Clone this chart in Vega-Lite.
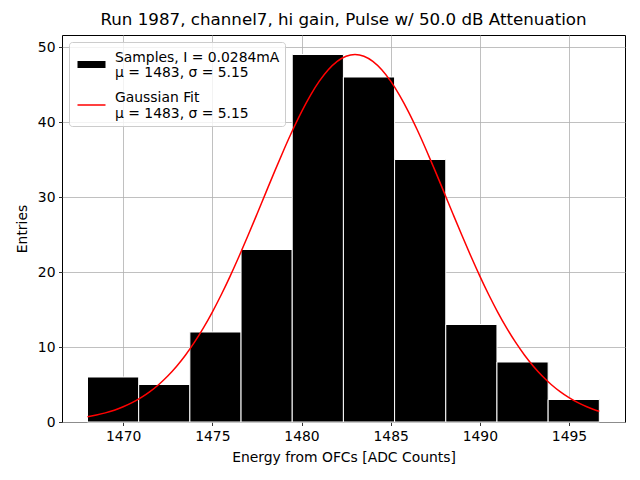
{
  "$schema": "https://vega.github.io/schema/vega-lite/v6.json",
  "title": {
    "text": "Run 1987, channel7, hi gain, Pulse w/ 50.0 dB Attenuation",
    "fontSize": 16.7, "fontWeight": "normal", "color": "black", "offset": 6
  },
  "width": 563,
  "height": 387,
  "autosize": "none",
  "padding": {"left": 62, "top": 35, "right": 15, "bottom": 58},
  "background": "white",
  "config": {
    "font": "DejaVu Sans",
    "view": {"stroke": "black", "strokeWidth": 1},
    "axis": {
      "domain": false, "grid": true, "gridColor": "#b0b0b0", "gridWidth": 0.8,
      "tickColor": "black", "tickSize": 3.5, "tickWidth": 0.8, "labelPadding": 3.5,
      "labelColor": "black", "labelFontSize": 13.9, "titleFontSize": 13.9,
      "titleFontWeight": "normal", "titleColor": "black", "zindex": 1, "format": "d"
    }
  },
  "layer": [
    {
      "data": {
        "values": [
          {"bin_start": 1468.00, "bin_end": 1470.87, "count": 6, "series": "Samples, I = 0.0284mA|μ = 1483, σ = 5.15"},
          {"bin_start": 1470.87, "bin_end": 1473.74, "count": 5, "series": "Samples, I = 0.0284mA|μ = 1483, σ = 5.15"},
          {"bin_start": 1473.74, "bin_end": 1476.61, "count": 12, "series": "Samples, I = 0.0284mA|μ = 1483, σ = 5.15"},
          {"bin_start": 1476.61, "bin_end": 1479.48, "count": 23, "series": "Samples, I = 0.0284mA|μ = 1483, σ = 5.15"},
          {"bin_start": 1479.48, "bin_end": 1482.35, "count": 49, "series": "Samples, I = 0.0284mA|μ = 1483, σ = 5.15"},
          {"bin_start": 1482.35, "bin_end": 1485.22, "count": 46, "series": "Samples, I = 0.0284mA|μ = 1483, σ = 5.15"},
          {"bin_start": 1485.22, "bin_end": 1488.09, "count": 35, "series": "Samples, I = 0.0284mA|μ = 1483, σ = 5.15"},
          {"bin_start": 1488.09, "bin_end": 1490.96, "count": 13, "series": "Samples, I = 0.0284mA|μ = 1483, σ = 5.15"},
          {"bin_start": 1490.96, "bin_end": 1493.83, "count": 8, "series": "Samples, I = 0.0284mA|μ = 1483, σ = 5.15"},
          {"bin_start": 1493.83, "bin_end": 1496.70, "count": 3, "series": "Samples, I = 0.0284mA|μ = 1483, σ = 5.15"}
        ]
      },
      "mark": {"type": "bar", "stroke": "white", "strokeWidth": 1},
      "encoding": {
        "x": {
          "field": "bin_start", "type": "quantitative",
          "scale": {"domain": [1466.57, 1498.14], "nice": false, "zero": false},
          "axis": {"values": [1470, 1475, 1480, 1485, 1490, 1495], "title": "Energy from OFCs [ADC Counts]", "titlePadding": 8}
        },
        "x2": {"field": "bin_end"},
        "y": {
          "field": "count", "type": "quantitative",
          "scale": {"domain": [0, 51.6], "nice": false},
          "axis": {"values": [0, 10, 20, 30, 40, 50], "title": "Entries", "titlePadding": 8}
        },
        "y2": {"datum": 0},
        "color": {
          "field": "series", "type": "nominal",
          "scale": {
            "domain": ["Samples, I = 0.0284mA|μ = 1483, σ = 5.15", "Gaussian Fit|μ = 1483, σ = 5.15"],
            "range": ["black", "red"]
          },
          "legend": {
            "title": null, "orient": "top-left", "offset": 7, "padding": 5,
            "strokeColor": "#cccccc", "fillColor": "rgba(255,255,255,0.8)", "cornerRadius": 3,
            "labelFontSize": 13.9, "labelColor": "black", "labelOffset": 6, "labelLimit": 400,
            "labelBaseline": "bottom",
            "symbolType": "stroke", "symbolSize": 784, "rowPadding": 9, "zindex": 2,
            "labelExpr": "split(datum.label, '|')"
          }
        }
      }
    },
    {
      "data": {
        "values": [
          {"energy": 1468.0, "fit": 0.705, "series": "Gaussian Fit|μ = 1483, σ = 5.15"},
          {"energy": 1468.5, "fit": 0.931, "series": "Gaussian Fit|μ = 1483, σ = 5.15"},
          {"energy": 1469.0, "fit": 1.218, "series": "Gaussian Fit|μ = 1483, σ = 5.15"},
          {"energy": 1469.5, "fit": 1.578, "series": "Gaussian Fit|μ = 1483, σ = 5.15"},
          {"energy": 1470.0, "fit": 2.025, "series": "Gaussian Fit|μ = 1483, σ = 5.15"},
          {"energy": 1470.5, "fit": 2.576, "series": "Gaussian Fit|μ = 1483, σ = 5.15"},
          {"energy": 1471.0, "fit": 3.245, "series": "Gaussian Fit|μ = 1483, σ = 5.15"},
          {"energy": 1471.5, "fit": 4.050, "series": "Gaussian Fit|μ = 1483, σ = 5.15"},
          {"energy": 1472.0, "fit": 5.007, "series": "Gaussian Fit|μ = 1483, σ = 5.15"},
          {"energy": 1472.5, "fit": 6.131, "series": "Gaussian Fit|μ = 1483, σ = 5.15"},
          {"energy": 1473.0, "fit": 7.438, "series": "Gaussian Fit|μ = 1483, σ = 5.15"},
          {"energy": 1473.5, "fit": 8.939, "series": "Gaussian Fit|μ = 1483, σ = 5.15"},
          {"energy": 1474.0, "fit": 10.642, "series": "Gaussian Fit|μ = 1483, σ = 5.15"},
          {"energy": 1474.5, "fit": 12.552, "series": "Gaussian Fit|μ = 1483, σ = 5.15"},
          {"energy": 1475.0, "fit": 14.663, "series": "Gaussian Fit|μ = 1483, σ = 5.15"},
          {"energy": 1475.5, "fit": 16.970, "series": "Gaussian Fit|μ = 1483, σ = 5.15"},
          {"energy": 1476.0, "fit": 19.455, "series": "Gaussian Fit|μ = 1483, σ = 5.15"},
          {"energy": 1476.5, "fit": 22.095, "series": "Gaussian Fit|μ = 1483, σ = 5.15"},
          {"energy": 1477.0, "fit": 24.857, "series": "Gaussian Fit|μ = 1483, σ = 5.15"},
          {"energy": 1477.5, "fit": 27.703, "series": "Gaussian Fit|μ = 1483, σ = 5.15"},
          {"energy": 1478.0, "fit": 30.586, "series": "Gaussian Fit|μ = 1483, σ = 5.15"},
          {"energy": 1478.5, "fit": 33.451, "series": "Gaussian Fit|μ = 1483, σ = 5.15"},
          {"energy": 1479.0, "fit": 36.240, "series": "Gaussian Fit|μ = 1483, σ = 5.15"},
          {"energy": 1479.5, "fit": 38.896, "series": "Gaussian Fit|μ = 1483, σ = 5.15"},
          {"energy": 1480.0, "fit": 41.354, "series": "Gaussian Fit|μ = 1483, σ = 5.15"},
          {"energy": 1480.5, "fit": 43.554, "series": "Gaussian Fit|μ = 1483, σ = 5.15"},
          {"energy": 1481.0, "fit": 45.441, "series": "Gaussian Fit|μ = 1483, σ = 5.15"},
          {"energy": 1481.5, "fit": 46.965, "series": "Gaussian Fit|μ = 1483, σ = 5.15"},
          {"energy": 1482.0, "fit": 48.085, "series": "Gaussian Fit|μ = 1483, σ = 5.15"},
          {"energy": 1482.5, "fit": 48.770, "series": "Gaussian Fit|μ = 1483, σ = 5.15"},
          {"energy": 1483.0, "fit": 49.000, "series": "Gaussian Fit|μ = 1483, σ = 5.15"},
          {"energy": 1483.5, "fit": 48.770, "series": "Gaussian Fit|μ = 1483, σ = 5.15"},
          {"energy": 1484.0, "fit": 48.085, "series": "Gaussian Fit|μ = 1483, σ = 5.15"},
          {"energy": 1484.5, "fit": 46.965, "series": "Gaussian Fit|μ = 1483, σ = 5.15"},
          {"energy": 1485.0, "fit": 45.441, "series": "Gaussian Fit|μ = 1483, σ = 5.15"},
          {"energy": 1485.5, "fit": 43.554, "series": "Gaussian Fit|μ = 1483, σ = 5.15"},
          {"energy": 1486.0, "fit": 41.354, "series": "Gaussian Fit|μ = 1483, σ = 5.15"},
          {"energy": 1486.5, "fit": 38.896, "series": "Gaussian Fit|μ = 1483, σ = 5.15"},
          {"energy": 1487.0, "fit": 36.240, "series": "Gaussian Fit|μ = 1483, σ = 5.15"},
          {"energy": 1487.5, "fit": 33.451, "series": "Gaussian Fit|μ = 1483, σ = 5.15"},
          {"energy": 1488.0, "fit": 30.586, "series": "Gaussian Fit|μ = 1483, σ = 5.15"},
          {"energy": 1488.5, "fit": 27.703, "series": "Gaussian Fit|μ = 1483, σ = 5.15"},
          {"energy": 1489.0, "fit": 24.857, "series": "Gaussian Fit|μ = 1483, σ = 5.15"},
          {"energy": 1489.5, "fit": 22.095, "series": "Gaussian Fit|μ = 1483, σ = 5.15"},
          {"energy": 1490.0, "fit": 19.455, "series": "Gaussian Fit|μ = 1483, σ = 5.15"},
          {"energy": 1490.5, "fit": 16.970, "series": "Gaussian Fit|μ = 1483, σ = 5.15"},
          {"energy": 1491.0, "fit": 14.663, "series": "Gaussian Fit|μ = 1483, σ = 5.15"},
          {"energy": 1491.5, "fit": 12.552, "series": "Gaussian Fit|μ = 1483, σ = 5.15"},
          {"energy": 1492.0, "fit": 10.642, "series": "Gaussian Fit|μ = 1483, σ = 5.15"},
          {"energy": 1492.5, "fit": 8.939, "series": "Gaussian Fit|μ = 1483, σ = 5.15"},
          {"energy": 1493.0, "fit": 7.438, "series": "Gaussian Fit|μ = 1483, σ = 5.15"},
          {"energy": 1493.5, "fit": 6.131, "series": "Gaussian Fit|μ = 1483, σ = 5.15"},
          {"energy": 1494.0, "fit": 5.007, "series": "Gaussian Fit|μ = 1483, σ = 5.15"},
          {"energy": 1494.5, "fit": 4.050, "series": "Gaussian Fit|μ = 1483, σ = 5.15"},
          {"energy": 1495.0, "fit": 3.245, "series": "Gaussian Fit|μ = 1483, σ = 5.15"},
          {"energy": 1495.5, "fit": 2.576, "series": "Gaussian Fit|μ = 1483, σ = 5.15"},
          {"energy": 1496.0, "fit": 2.025, "series": "Gaussian Fit|μ = 1483, σ = 5.15"},
          {"energy": 1496.5, "fit": 1.578, "series": "Gaussian Fit|μ = 1483, σ = 5.15"},
          {"energy": 1496.7, "fit": 1.424, "series": "Gaussian Fit|μ = 1483, σ = 5.15"}
        ]
      },
      "mark": {"type": "line", "interpolate": "monotone"},
      "encoding": {
        "x": {"field": "energy", "type": "quantitative"},
        "y": {"field": "fit", "type": "quantitative"},
        "color": {"field": "series", "type": "nominal"},
        "strokeWidth": {
          "field": "series", "type": "nominal",
          "scale": {
            "domain": ["Samples, I = 0.0284mA|μ = 1483, σ = 5.15", "Gaussian Fit|μ = 1483, σ = 5.15"],
            "range": [7, 1.5]
          },
          "legend": {
            "title": null, "orient": "top-left", "offset": 7, "padding": 5,
            "strokeColor": "#cccccc", "fillColor": "rgba(255,255,255,0.8)", "cornerRadius": 3,
            "labelFontSize": 13.9, "labelColor": "black", "labelOffset": 6, "labelLimit": 400,
            "labelBaseline": "bottom",
            "symbolType": "stroke", "symbolSize": 784, "rowPadding": 9, "zindex": 2,
            "labelExpr": "split(datum.label, '|')"
          }
        }
      }
    }
  ]
}
